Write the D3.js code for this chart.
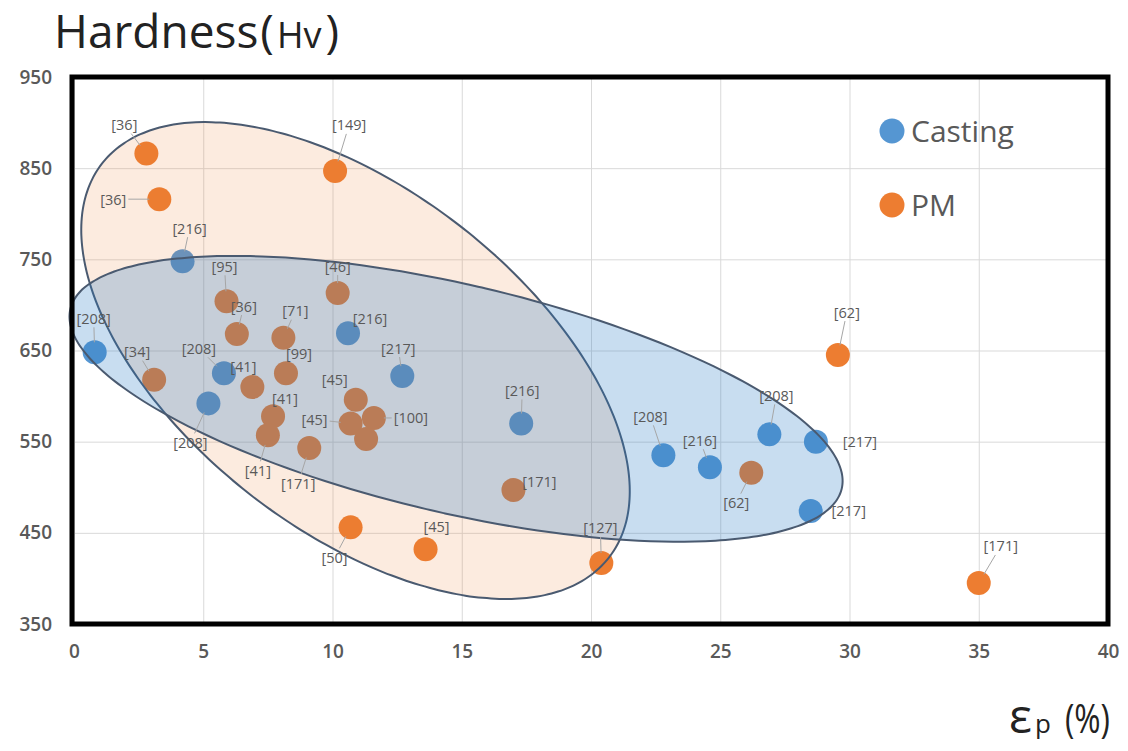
<!DOCTYPE html>
<html>
<head>
<meta charset="utf-8">
<script src="https://cdn.jsdelivr.net/npm/d3@7"></script>
<style>
  html, body { margin: 0; padding: 0; background: #ffffff; }
  svg { display: block; }
</style>
</head>
<body>
<svg id="chart" width="1128" height="751"></svg>
<script>
// ---- data ----------------------------------------------------------
const seriesNames = ["Casting", "PM"];

// elongation (%) and Vickers hardness for cast alloys
const castingX = [0.8, 4.2, 5.8, 5.2, 10.6, 12.7, 17.3, 22.8, 24.6, 26.9, 28.7, 28.5];
const castingY = [648, 748, 625, 592, 669, 622, 570, 535, 522, 558, 550, 474];
const castingRefs = ["[208]", "[216]", "[208]", "[208]", "[216]", "[217]", "[216]", "[208]", "[216]", "[208]", "[217]", "[217]"];

// elongation (%) and Vickers hardness for powder-metallurgy alloys
const pmX = [2.8, 3.3, 10.1, 5.9, 10.2, 6.3, 8.1, 3.1, 8.2, 6.9, 7.7, 7.5, 9.1, 10.9, 10.7, 11.6, 11.3, 17.0, 10.7, 13.6, 20.4, 29.55, 26.2, 35.0];
const pmY = [866, 816, 847, 704, 713, 668, 664, 618, 625, 610, 578, 557, 543, 596, 570, 576, 553, 497, 456, 432, 417, 645, 516, 395];
const pmRefs = ["[36]", "[36]", "[149]", "[95]", "[46]", "[36]", "[71]", "[34]", "[99]", "[41]", "[41]", "[41]", "[171]", "[45]", "[45]", "[100]", "", "[171]", "[50]", "[45]", "[127]", "[62]", "[62]", "[171]"];

// axis ticks
const xTicks = [0, 5, 10, 15, 20, 25, 30, 35, 40];
const yTicks = [350, 450, 550, 650, 750, 850, 950];

// envelopes around each group: centre and two conjugate semi-axes (data units)
const pmEnvelopeCentre = [10.89, 639];
const pmEnvelopeAxes = [[9.81, -215.9], [-4.04, -147.7]];
const castingEnvelopeCentre = [14.78, 597];
const castingEnvelopeAxes = [[14.92, -98.5], [-1.0, -122]];

// ---- layout --------------------------------------------------------
// label placement relative to its point, in pixels: [dx, dy, draw leader]
const castingLabelLayout = [
  [-1, -34, 1], [7, -33, 1], [-25, -25, 1], [-18, 39, 1], [22, -15, 0], [-4, -28, 1],
  [1, -33, 1], [-13, -39, 1], [-10, -27, 1], [7, -39, 1], [44, 0, 0], [38, 0, 0]
];
const pmLabelLayout = [
  [-22, -29, 1], [-46, 0, 1], [14, -46, 1], [-2, -35, 1], [0, -27, 1], [7, -28, 1],
  [12, -27, 1], [-17, -28, 1], [13, -20, 0], [-9, -20, 0], [12, -18, 0], [-10, 35, 1],
  [-11, 35, 1], [-21, -20, 0], [-36, -4, 1], [37, 0, 1], [0, 0, 0], [26, -8, 0],
  [-16, 30, 1], [11, -23, 0], [-1, -35, 1], [9, -43, 1], [-15, 30, 1], [22, -37, 1]
];

const plot = { left: 74, right: 1108, top: 77, bottom: 624 };
const pointRadius = 12;
const colors = { Casting: "#5596D2", PM: "#ED7D31" };
const textGrey = "#595959";
const uiFont = "'Open Sans', 'Noto Sans', sans-serif";

const svg = d3.select("#chart");
svg.append("rect").attr("width", 1128).attr("height", 751).attr("fill", "#ffffff");

const x = d3.scaleLinear().domain([xTicks[0], xTicks[xTicks.length - 1]]).range([plot.left, plot.right]);
const y = d3.scaleLinear().domain([yTicks[0], yTicks[yTicks.length - 1]]).range([plot.bottom, plot.top]);

// ---- gridlines -----------------------------------------------------
svg.append("g")
  .attr("transform", `translate(0,${plot.bottom})`)
  .call(d3.axisBottom(x).tickValues(xTicks).tickSize(-(plot.bottom - plot.top)).tickFormat(""))
  .call(g => g.select(".domain").remove())
  .call(g => g.selectAll("line").attr("stroke", "#D9D9D9").attr("stroke-width", 1));

svg.append("g")
  .attr("transform", `translate(${plot.left},0)`)
  .call(d3.axisLeft(y).tickValues(yTicks).tickSize(-(plot.right - plot.left)).tickFormat(""))
  .call(g => g.select(".domain").remove())
  .call(g => g.selectAll("line").attr("stroke", "#D9D9D9").attr("stroke-width", 1));

// ---- points --------------------------------------------------------
const series = [
  { name: seriesNames[0], xs: castingX, ys: castingY, refs: castingRefs, layout: castingLabelLayout },
  { name: seriesNames[1], xs: pmX, ys: pmY, refs: pmRefs, layout: pmLabelLayout }
];

const points = series.flatMap(s => s.xs.map((v, i) => ({
  series: s.name, x: v, y: s.ys[i], ref: s.refs[i], lay: s.layout[i]
})));

svg.append("g").selectAll("circle")
  .data(points)
  .join("circle")
  .attr("cx", d => x(d.x))
  .attr("cy", d => y(d.y))
  .attr("r", pointRadius)
  .attr("fill", d => colors[d.series]);

// ---- envelopes (translucent, drawn over the points) ----------------
function envelopePath(c, axes) {
  const [u, v] = axes;
  const pts = d3.range(0, 360, 2).map(a => {
    const t = a * Math.PI / 180;
    return [
      x(c[0] + u[0] * Math.cos(t) + v[0] * Math.sin(t)),
      y(c[1] + u[1] * Math.cos(t) + v[1] * Math.sin(t))
    ];
  });
  return d3.line().curve(d3.curveCardinalClosed)(pts);
}

svg.append("path")
  .attr("d", envelopePath(pmEnvelopeCentre, pmEnvelopeAxes))
  .attr("fill", "#ED7D31").attr("fill-opacity", 0.155)
  .attr("stroke", "#4A5A70").attr("stroke-width", 2);

svg.append("path")
  .attr("d", envelopePath(castingEnvelopeCentre, castingEnvelopeAxes))
  .attr("fill", "#2C7CC5").attr("fill-opacity", 0.26)
  .attr("stroke", "#4A5A70").attr("stroke-width", 2);

// ---- data labels with leader lines ---------------------------------
const labelled = points.filter(d => d.ref !== "");
const labelG = svg.append("g");
const leaderG = labelG.append("g");
const labels = labelG.selectAll("text")
  .data(labelled)
  .join("text")
  .attr("x", d => x(d.x) + d.lay[0])
  .attr("y", d => y(d.y) + d.lay[1])
  .attr("text-anchor", "middle")
  .attr("dominant-baseline", "central")
  .attr("font-family", uiFont)
  .attr("font-size", 14.5)
  .attr("fill", textGrey)
  .text(d => d.ref);

labels.each(function (d) {
  if (!d.lay[2]) return;
  const w = this.getComputedTextLength();
  const hw = w / 2 + 2, hh = 9;
  const lx = x(d.x) + d.lay[0], ly = y(d.y) + d.lay[1];
  const px = x(d.x), py = y(d.y);
  const dx = px - lx, dy = py - ly;
  const len = Math.hypot(dx, dy);
  const tBox = Math.min(dx === 0 ? Infinity : hw / Math.abs(dx), dy === 0 ? Infinity : hh / Math.abs(dy));
  const sx = lx + dx * tBox, sy = ly + dy * tBox;
  const ex = px - dx / len * (pointRadius - 2), ey = py - dy / len * (pointRadius - 2);
  if (Math.hypot(ex - sx, ey - sy) < 3 || tBox >= 1) return;
  leaderG.append("line")
    .attr("x1", sx).attr("y1", sy).attr("x2", ex).attr("y2", ey)
    .attr("stroke", "#A6A6A6").attr("stroke-width", 1);
});

// ---- plot frame ----------------------------------------------------
svg.append("rect")
  .attr("x", plot.left - 2).attr("y", plot.top)
  .attr("width", plot.right - plot.left + 2).attr("height", plot.bottom - plot.top)
  .attr("fill", "none").attr("stroke", "#000000").attr("stroke-width", 5);

// ---- axis labels ---------------------------------------------------
svg.append("g")
  .attr("transform", `translate(0,${plot.bottom})`)
  .call(d3.axisBottom(x).tickValues(xTicks).tickSize(0).tickPadding(21))
  .call(g => g.select(".domain").remove())
  .call(g => g.selectAll("text")
    .attr("font-family", uiFont).attr("font-weight", 600)
    .attr("font-size", 19).attr("fill", textGrey));

svg.append("g")
  .attr("transform", `translate(${plot.left},0)`)
  .call(d3.axisLeft(y).tickValues(yTicks).tickSize(0).tickPadding(22))
  .call(g => g.select(".domain").remove())
  .call(g => g.selectAll("text")
    .attr("font-family", uiFont).attr("font-weight", 600)
    .attr("font-size", 19).attr("fill", textGrey));

// ---- legend --------------------------------------------------------
const legend = svg.append("g");
seriesNames.forEach((name, i) => {
  const cy = 131 + i * 74;
  legend.append("circle").attr("cx", 892).attr("cy", cy).attr("r", 12.5).attr("fill", colors[name]);
  legend.append("text")
    .attr("x", 911).attr("y", cy + 11)
    .attr("font-family", uiFont).attr("font-size", 30)
    .attr("fill", textGrey)
    .text(name);
});

// ---- titles --------------------------------------------------------
const title = svg.append("text")
  .attr("x", 54).attr("y", 48)
  .attr("font-family", uiFont).attr("fill", "#222222");
title.append("tspan").attr("font-size", 46).text("Hardness");
title.append("tspan").attr("font-size", 46).attr("dx", 2).text("(");
title.append("tspan").attr("font-size", 36).attr("dx", 3).text("Hv");
title.append("tspan").attr("font-size", 46).attr("dx", 4).text(")");

const xTitle = svg.append("text")
  .attr("y", 733)
  .attr("font-family", uiFont).attr("fill", "#222222");
xTitle.append("tspan").attr("x", 1009).attr("font-size", 48).text("ε");
xTitle.append("tspan").attr("font-size", 26).attr("dx", 3).text("p");
xTitle.append("tspan").attr("x", 1065).attr("font-size", 40).attr("textLength", 45).attr("lengthAdjust", "spacingAndGlyphs").text("(%)");
</script>
</body>
</html>
